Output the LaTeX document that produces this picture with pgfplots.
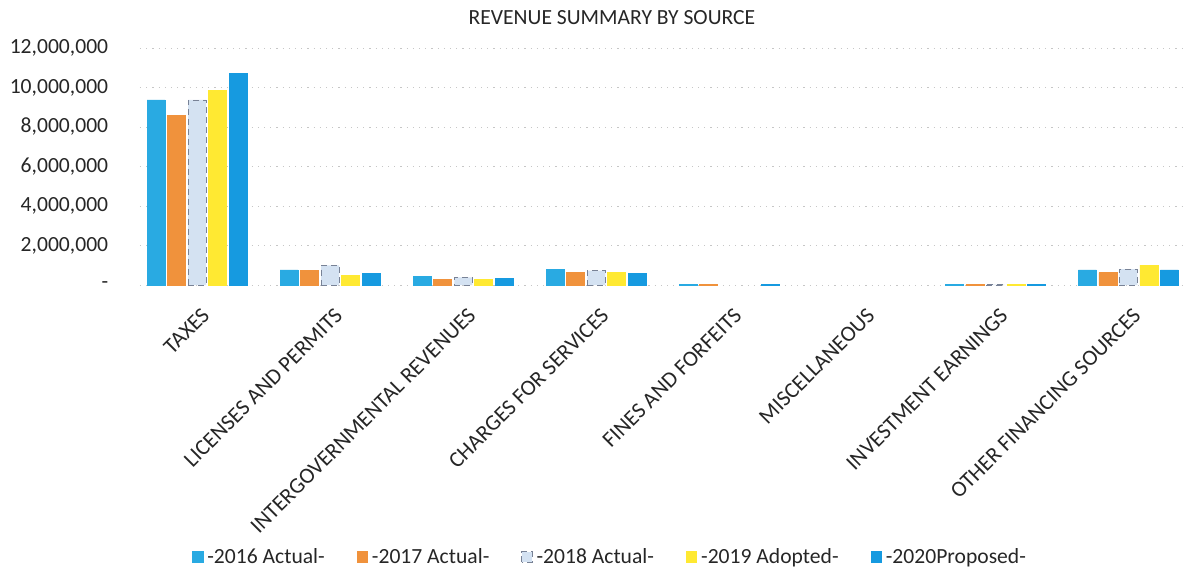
\documentclass[border=0pt]{standalone}
\usepackage{fontspec}
\setmainfont{Carlito}
\usepackage{pgfplots}
\pgfplotsset{compat=1.18}
\definecolor{cA}{RGB}{41,170,226}
\definecolor{cB}{RGB}{240,146,60}
\definecolor{cC}{RGB}{212,226,242}
\definecolor{cCd}{RGB}{120,130,150}
\definecolor{cD}{RGB}{255,233,50}
\definecolor{cE}{RGB}{22,154,224}
\begin{document}
\begin{tikzpicture}
\begin{axis}[
  name=ax,
  at={(0,0)}, anchor=south west,
  scale only axis,
  width=521.5pt, height=118.5pt,
  ybar=1.25pt, bar width=9pt,
  xmin=-0.43, xmax=7.41,
  ymin=0, ymax=12000000,
  xtick={0,1,2,3,4,5,6,7},
  xticklabels={TAXES,LICENSES AND PERMITS,INTERGOVERNMENTAL REVENUES,CHARGES FOR SERVICES,FINES AND FORFEITS,MISCELLANEOUS,INVESTMENT EARNINGS,OTHER FINANCING SOURCES},
  ytick={0,2000000,4000000,6000000,8000000,10000000,12000000},
  yticklabels={{-\hspace{2pt}},{2,000,000},{4,000,000},{6,000,000},{8,000,000},{10,000,000},{12,000,000}},
  scaled y ticks=false,
  axis line style={draw=none},
  major tick length=0pt,
  ymajorgrids,
  major grid style={gray!45, line width=0.5pt, dash pattern=on 0.6pt off 2.5pt},
  tick label style={font=\fontsize{10.8}{12}\selectfont, text=black!85},
  xticklabel style={font=\fontsize{11.1}{12}\selectfont, rotate=45, anchor=east, xshift=-3pt, yshift=-12.5pt},
  yticklabel style={xshift=-12.4pt},
  title={REVENUE SUMMARY BY SOURCE},
  title style={font=\fontsize{10.8}{12}\selectfont, text=black!85, at={(0.4525,1)}, anchor=center, yshift=9pt},
  legend columns=5,
  legend style={draw=none, fill=none, at={(0.4516,0)}, anchor=center, yshift=-136pt,
     font=\fontsize{10.8}{12}\selectfont, text=black!85,
     /tikz/every even column/.append style={column sep=14pt}},
  legend image code/.code={\filldraw[#1] (0pt,-2.6pt) rectangle (5.2pt,2.6pt);},
]
\addplot[fill=cA, draw=cA] coordinates {(0,9370000) (1,760000) (2,420000) (3,790000) (4,30000) (6,25000) (7,760000)};
\addplot[fill=cB, draw=cB] coordinates {(0,8570000) (1,740000) (2,300000) (3,640000) (4,35000) (6,25000) (7,620000)};
\addplot[fill=cC, draw=cCd, densely dashed, line width=0.4pt] coordinates {(0,9370000) (1,1000000) (2,390000) (3,730000) (6,25000) (7,810000)};
\addplot[fill=cD, draw=cD] coordinates {(0,9870000) (1,500000) (2,300000) (3,640000) (6,20000) (7,1010000)};
\addplot[fill=cE, draw=cE] coordinates {(0,10720000) (1,590000) (2,340000) (3,590000) (4,25000) (6,25000) (7,760000)};
\legend{-2016 Actual-,-2017 Actual-,-2018 Actual-,-2019 Adopted-,-2020Proposed-}
\end{axis}
\pgfresetboundingbox
\path[use as bounding box] (ax.south west) ++(-70pt,-144pt) rectangle ++(591.5pt,286.5pt);
\end{tikzpicture}
\end{document}
